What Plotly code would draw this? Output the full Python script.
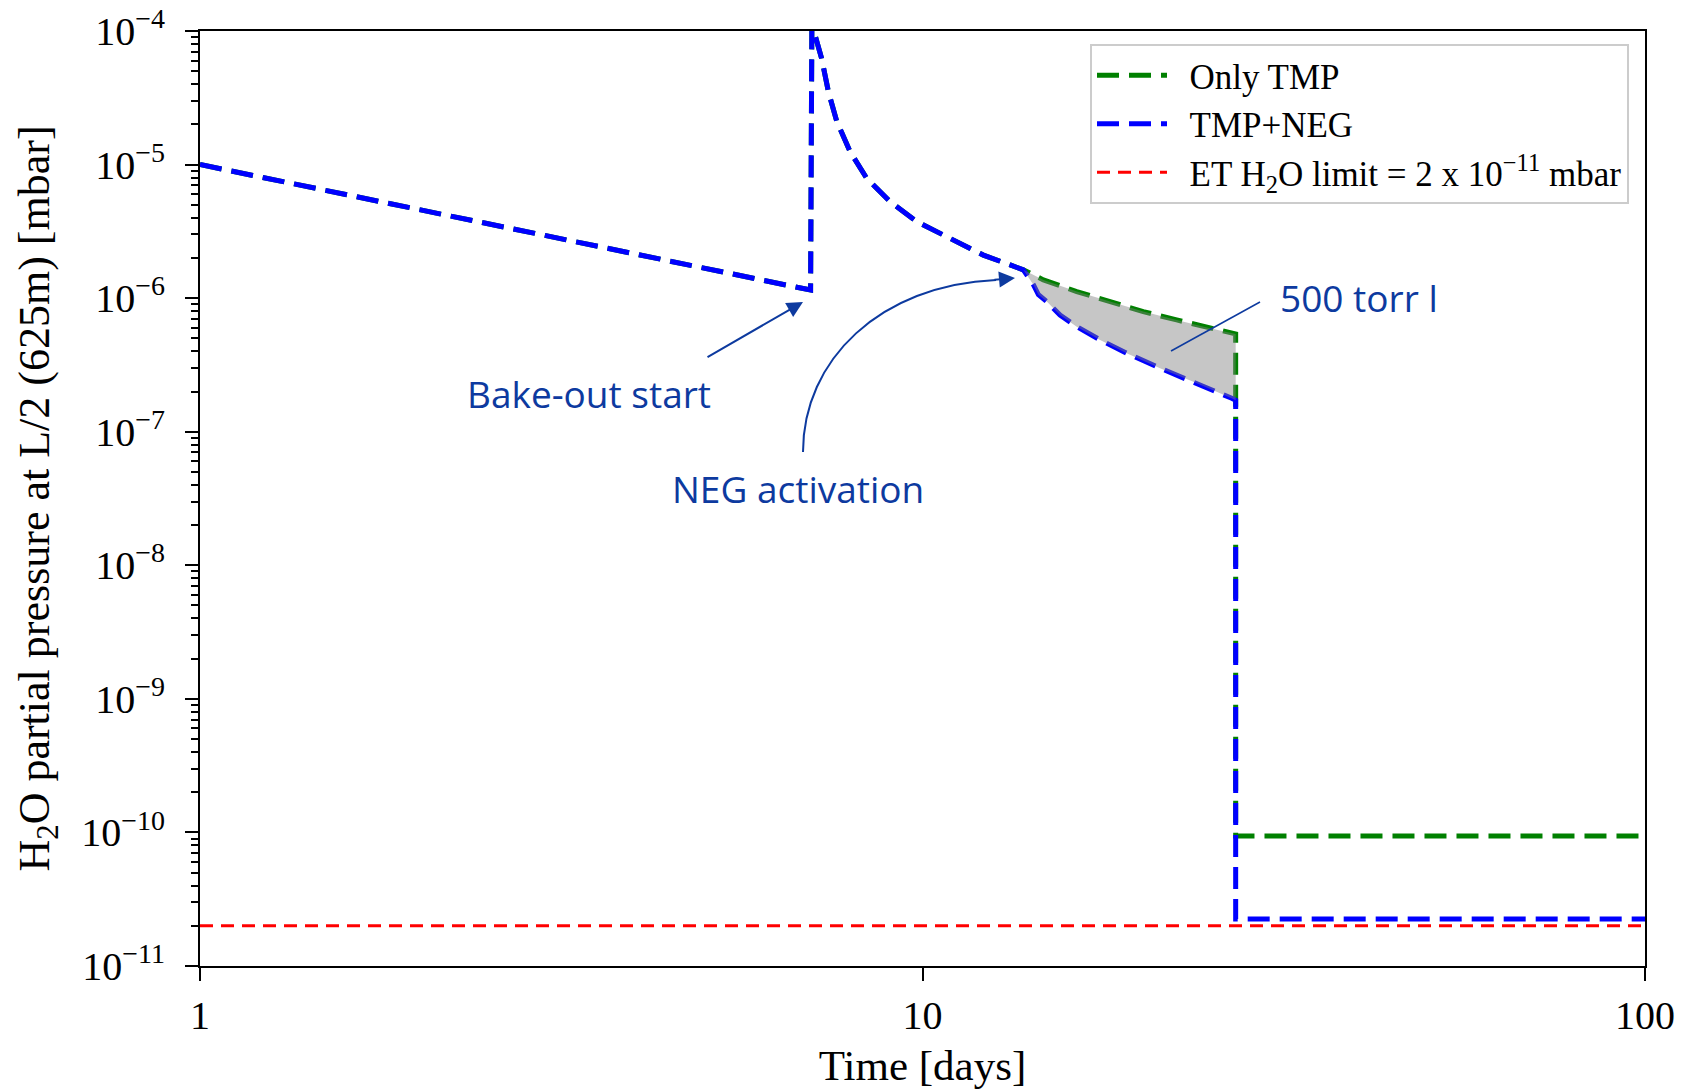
import plotly.graph_objects as go

# ---------------- data ----------------
# common part of both curves (before NEG activation)
time_pre = [1.0, 7.0, 7.03, 7.10, 7.25, 7.41, 7.61, 7.94, 8.37, 9.02, 9.82,
            10.92, 12.14, 13.79]
p_pre = [1.0e-5, 1.15e-6, 1.4e-4, 9.3e-5, 6.25e-5, 3.5e-5, 2.1e-5, 1.25e-5,
         7.9e-6, 5.27e-6, 3.74e-6, 2.81e-6, 2.1e-6, 1.63e-6]

# Only TMP after activation time
time_post_tmp = [14.70, 16.35, 18.18, 20.21, 22.48, 25.0, 27.13]
p_post_tmp = [1.37e-6, 1.12e-6, 9.42e-7, 7.93e-7, 6.87e-7, 5.95e-7, 5.4e-7]

# TMP + NEG after activation
time_post_neg = [14.24, 14.47, 14.86, 15.50, 16.35, 17.61, 19.17, 21.32, 23.71, 26.79, 27.13]
p_post_neg = [1.26e-6, 1.06e-6, 9.42e-7, 7.48e-7, 6.12e-7, 4.87e-7, 3.87e-7, 2.99e-7,
              2.37e-7, 1.78e-7, 1.72e-7]

# final plateau after bake-out end
time_final = [27.13, 100.0]
p_final_tmp = [9.4e-11, 9.4e-11]
p_final_neg = [2.25e-11, 2.25e-11]

# ET limit
time_limit = [1.0, 100.0]
p_limit = [2e-11, 2e-11]

x_tickvals = [1, 10, 100]
x_ticktext = ["1", "10", "100"]
y_exponents = [-11, -10, -9, -8, -7, -6, -5, -4]

# ---------------- build series ----------------
time_tmp = time_pre + time_post_tmp + time_final
p_tmp = p_pre + p_post_tmp + p_final_tmp
time_neg = time_pre + time_post_neg + time_final
p_neg = p_pre + p_post_neg + p_final_neg

fill_x = [time_pre[-1]] + time_post_tmp + time_post_neg[::-1] + [time_pre[-1]]
fill_y = [p_pre[-1]] + p_post_tmp + p_post_neg[::-1] + [p_pre[-1]]

y_tickvals = [10.0 ** e for e in y_exponents]
y_ticktext = ["10<sup>\u2212%d</sup>" % (-e) for e in y_exponents]
y_minor = [m * 10.0 ** e for e in y_exponents[:-1] for m in range(2, 10)]

ANN = "#0d3a9f"
SERIF = "Liberation Serif"
SANS = "Open Sans"
GAP = "\u00a0\u00a0"

fig = go.Figure()
fig.add_trace(go.Scatter(x=time_tmp, y=p_tmp, mode="lines", name=GAP + "Only TMP",
                         line=dict(color="#008000", width=5, dash="22px,10px")))
fig.add_trace(go.Scatter(x=time_neg, y=p_neg, mode="lines", name=GAP + "TMP+NEG",
                         line=dict(color="#0000ff", width=5, dash="22px,10px")))
fig.add_trace(go.Scatter(x=time_limit, y=p_limit, mode="lines",
                         name=GAP + "ET H<sub>2</sub>O limit = 2 x 10<sup>\u221211</sup> mbar",
                         line=dict(color="#ff0000", width=3, dash="13px,8px")))
fig.add_trace(go.Scatter(x=fill_x, y=fill_y, mode="none", fill="toself",
                         fillcolor="rgba(128,128,128,0.45)", showlegend=False,
                         hoverinfo="skip"))

# pixel -> paper helpers for annotation placement
L, R, T, B = 200, 1645, 31, 966
def px(xf):
    return (xf - L) / (R - L)
def py(yf):
    return (B - yf) / (B - T)

annotations = [
    dict(x=px(589), y=py(394), xref="paper", yref="paper", text="Bake-out start",
         xanchor="center", yanchor="middle", showarrow=False,
         font=dict(family=SANS, size=37, color=ANN)),
    dict(x=px(798), y=py(488), xref="paper", yref="paper", text="NEG activation",
         xanchor="center", yanchor="middle", showarrow=False,
         font=dict(family=SANS, size=37, color=ANN)),
    dict(x=px(1278), y=py(298), xref="paper", yref="paper", text="500 torr l",
         xanchor="left", yanchor="middle", showarrow=False,
         font=dict(family=SANS, size=37, color=ANN)),
    # bake-out arrow
    dict(x=px(803), y=py(302), xref="paper", yref="paper", text="", showarrow=True,
         ax=-97, ay=56, arrowhead=2, arrowsize=1.6, arrowwidth=2, arrowcolor=ANN),
    # NEG activation arrow head
    dict(x=px(1015), y=py(278), xref="paper", yref="paper", text="", showarrow=True,
         ax=-22, ay=2, arrowhead=2, arrowsize=1.6, arrowwidth=2, arrowcolor=ANN),
]

shapes = [
    dict(type="path", xref="paper", yref="paper",
         path="M %f,%f C %f,%f %f,%f %f,%f" % (px(803), py(452), px(803), py(360),
                                              px(880), py(285), px(996), py(280)),
         line=dict(color=ANN, width=2)),
    dict(type="line", xref="paper", yref="paper", x0=px(1260), y0=py(302),
         x1=px(1171), y1=py(351), line=dict(color=ANN, width=1.5)),
]

fig.update_layout(
    width=1684, height=1089,
    margin=dict(l=L, r=1684 - R, t=T, b=1089 - B, autoexpand=False),
    paper_bgcolor="white", plot_bgcolor="white",
    font=dict(family=SERIF, size=40, color="black"),
    annotations=annotations, shapes=shapes,
    legend=dict(x=px(1629), y=py(44), xanchor="right", yanchor="top",
                bgcolor="rgba(255,255,255,0.9)", bordercolor="#cccccc", borderwidth=2,
                font=dict(family=SERIF, size=35, color="black"),
                itemwidth=70),
    showlegend=True,
)
fig.update_xaxes(type="log", range=[0, 2], showline=True, linecolor="black", linewidth=2,
                 mirror=True, ticks="outside", ticklen=13, tickwidth=2, tickcolor="black",
                 tickvals=x_tickvals, ticktext=x_ticktext, showgrid=False, zeroline=False,
                 automargin=False, tickfont=dict(family=SERIF, size=40),
                 title=dict(text="Time [days]", font=dict(family=SERIF, size=43), standoff=18))
fig.update_yaxes(type="log", range=[-11, -4], showline=True, linecolor="black", linewidth=2,
                 mirror=True, ticks="outside", ticklen=13, tickwidth=2, tickcolor="black",
                 tickvals=y_tickvals, ticktext=y_ticktext, showgrid=False, zeroline=False,
                 automargin=False, ticklabelstandoff=12,
                 tickfont=dict(family=SERIF, size=40),
                 minor=dict(tickvals=y_minor, ticks="outside", ticklen=7, tickwidth=1.5,
                            tickcolor="black", showgrid=False),
                 title=dict(text="H<sub>2</sub>O partial pressure at L/2 (625m) [mbar]",
                            font=dict(family=SERIF, size=44), standoff=18))

fig.write_html("out.html")
